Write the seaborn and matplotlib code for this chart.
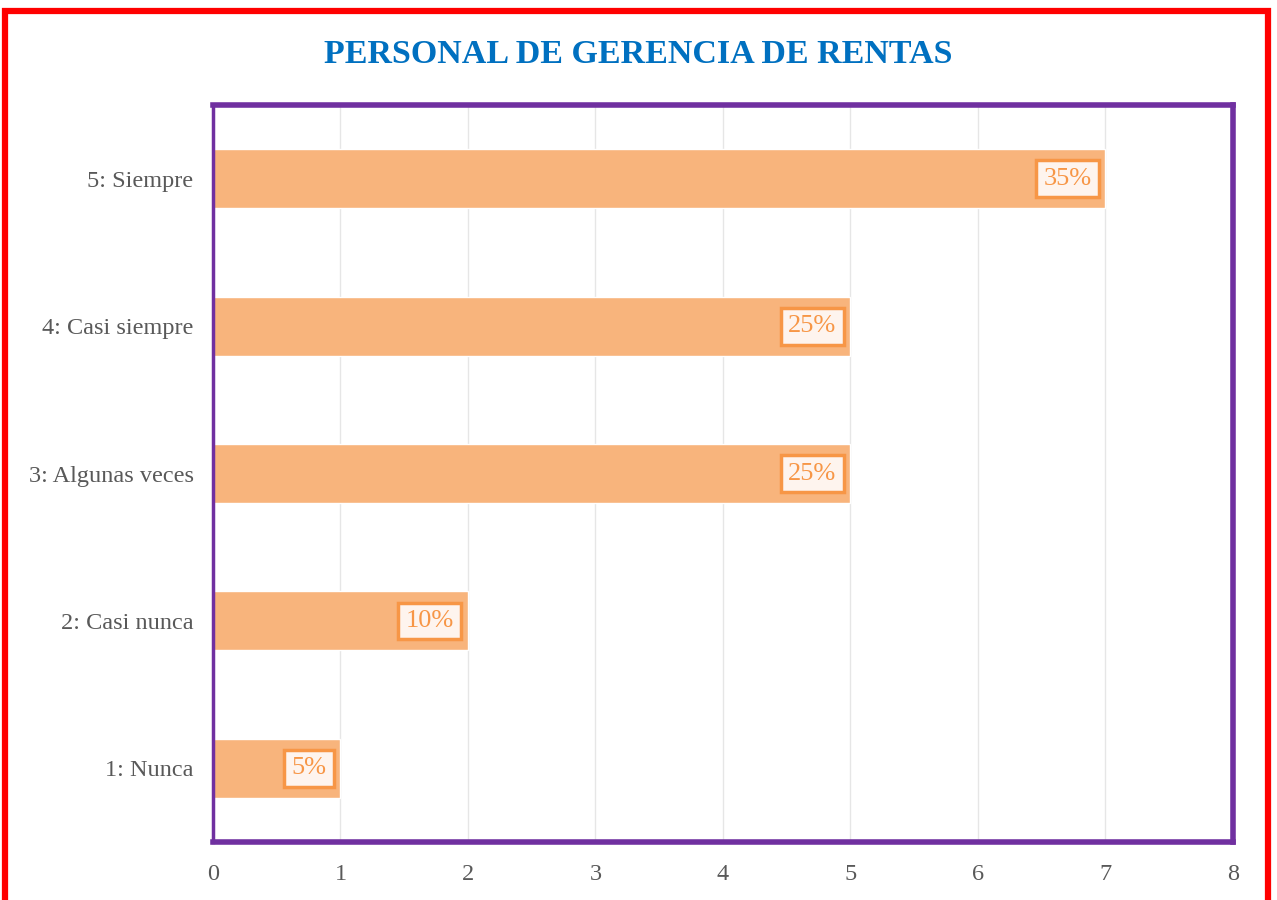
import numpy as np
import matplotlib
matplotlib.use("Agg")
import matplotlib.pyplot as plt
import seaborn as sns
import pandas as pd
from matplotlib.patches import Rectangle

# Data
categories = ["5: Siempre", "4: Casi siempre", "3: Algunas veces", "2: Casi nunca", "1: Nunca"]
counts = [7, 5, 5, 2, 1]
percent_labels = ["35%", "25%", "25%", "10%", "5%"]
x_ticks = [0, 1, 2, 3, 4, 5, 6, 7, 8]

frame = pd.DataFrame({"Categoria": categories, "Frecuencia": counts})

sns.set_style("white")
plt.rcParams["font.family"] = ["Liberation Serif", "DejaVu Serif"]

fig = plt.figure(figsize=(12.77, 9.0), dpi=100)
ax = fig.add_axes([0.1668, 0.0644, 0.7987, 0.8189])

sns.barplot(data=frame, x="Frecuencia", y="Categoria", order=categories,
            color="#F8B47C", saturation=1, width=0.4, ax=ax)

ax.set_xlim(0, 8)
ax.set_ylim(4.5, -0.5)
ax.set_xticks(x_ticks)
ax.set_xlabel("")
ax.set_ylabel("")
ax.grid(axis="x", color="#E6E6E6", linewidth=1)
ax.set_axisbelow(True)

ax.tick_params(axis="both", labelsize=17.5, colors="#595959", length=0)
ax.tick_params(axis="x", pad=16)
ax.tick_params(axis="y", pad=14)
ax.set_yticks(np.arange(-0.5, 5, 1), minor=True)
ax.tick_params(axis="y", which="minor", length=4, color="#BFBFBF", width=1.5)

# plot area border
for side in ["top", "right", "bottom"]:
    ax.spines[side].set_visible(True)
    ax.spines[side].set_color("#7030A0")
    ax.spines[side].set_linewidth(4)
ax.spines["left"].set_visible(True)
ax.spines["left"].set_color("#7030A0")
ax.spines["left"].set_linewidth(2.5)

# data labels
for i, (v, lab) in enumerate(zip(counts, percent_labels)):
    ax.text(v - 0.11, i, lab, ha="right", va="center", fontsize=19, color="#F79646",
            bbox=dict(boxstyle="square,pad=0.28", facecolor="#FEF4EE",
                      edgecolor="#F79646", linewidth=2.5))

fig.suptitle("PERSONAL DE GERENCIA DE RENTAS", y=0.957, fontsize=24.5,
             fontweight="bold", color="#0070C0")

# outer red frame
fig.patches.append(Rectangle((0.004, -0.05), 0.989, 1.038, transform=fig.transFigure,
                             fill=False, edgecolor="#FF0000", linewidth=4.5,
                             clip_on=False))

fig.savefig("out.png", dpi=100)
